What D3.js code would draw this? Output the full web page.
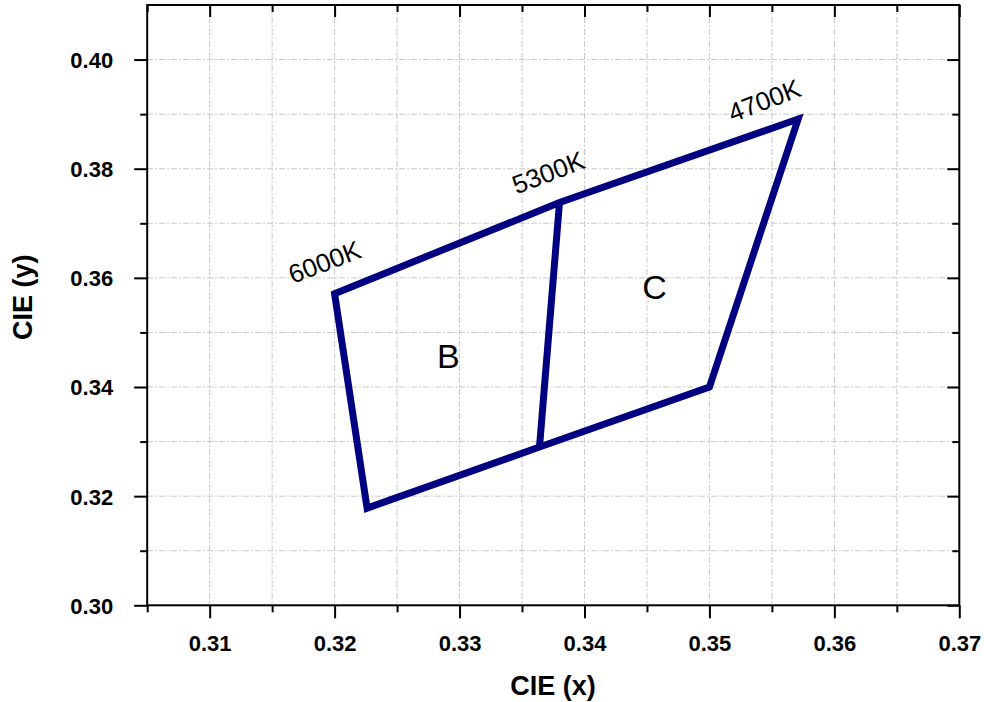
<!DOCTYPE html>
<html><head><meta charset="utf-8">
<script src="https://cdn.jsdelivr.net/npm/d3@7"></script>
<style>body{margin:0;background:#fff}svg{display:block}</style>
</head><body><svg id="c" width="984" height="702"></svg>
<script>
// Outline vertices (CIE x, CIE y)
const outlineX = [0.3200, 0.3226, 0.3364, 0.3500, 0.3571, 0.3380];
const outlineY = [0.3571, 0.3178, 0.3290, 0.3400, 0.3891, 0.3738];
// Dividing line (5300K)
const dividerX = [0.3380, 0.3364];
const dividerY = [0.3738, 0.3290];
// CCT labels
const cctLabels = ["6000K", "5300K", "4700K"];
const cctX = [0.3192, 0.3371, 0.3544];
const cctY = [0.3629, 0.3793, 0.3925];
// Region labels
const regionLabels = ["B", "C"];
const regionX = [0.3291, 0.3456];
const regionY = [0.3457, 0.3584];
// Axis ticks
const xTicks = [0.31, 0.32, 0.33, 0.34, 0.35, 0.36, 0.37];
const xMinor = [0.305, 0.315, 0.325, 0.335, 0.345, 0.355, 0.365];
const yTicks = [0.30, 0.32, 0.34, 0.36, 0.38, 0.40];
const yMinor = [0.31, 0.33, 0.35, 0.37, 0.39];

const svg = d3.select("#c");
const L = 147.2, R = 959.3, T = 5, B = 605.3;
const x = d3.scaleLinear().domain([0.305, 0.37]).range([L, R]);
const y = d3.scaleLinear().domain([0.30, 0.41]).range([B, T]);
const font = "'Liberation Sans', Arial, sans-serif";

// grid
const grid = svg.append("g").attr("stroke", "#c8c8c8").attr("stroke-width", 1).attr("stroke-dasharray", "6,2,2,2");
xTicks.concat(xMinor).filter(v => v > 0.306 && v < 0.369).forEach(v => {
  grid.append("line").attr("x1", x(v)).attr("x2", x(v)).attr("y1", T).attr("y2", B);
});
yTicks.concat(yMinor).filter(v => v > 0.301 && v < 0.409).forEach(v => {
  grid.append("line").attr("x1", L).attr("x2", R).attr("y1", y(v)).attr("y2", y(v));
});

// axes
const fmt = d3.format(".2f");
const axB = svg.append("g").attr("transform", `translate(0,${B})`)
  .call(d3.axisBottom(x).tickValues(xTicks).tickFormat(fmt).tickSize(13).tickPadding(17));
const axBm = svg.append("g").attr("transform", `translate(0,${B})`)
  .call(d3.axisBottom(x).tickValues(xMinor).tickFormat("").tickSize(7));
const axT = svg.append("g").attr("transform", `translate(0,${T})`)
  .call(d3.axisBottom(x).tickValues(xTicks).tickFormat("").tickSize(12));
const axTm = svg.append("g").attr("transform", `translate(0,${T})`)
  .call(d3.axisBottom(x).tickValues(xMinor).tickFormat("").tickSize(7));
const axL = svg.append("g").attr("transform", `translate(${L},0)`)
  .call(d3.axisLeft(y).tickValues(yTicks).tickFormat(fmt).tickSize(13).tickPadding(21));
const axLm = svg.append("g").attr("transform", `translate(${L},0)`)
  .call(d3.axisLeft(y).tickValues(yMinor).tickFormat("").tickSize(7));
const axR = svg.append("g").attr("transform", `translate(${R},0)`)
  .call(d3.axisLeft(y).tickValues(yTicks).tickFormat("").tickSize(12));
const axRm = svg.append("g").attr("transform", `translate(${R},0)`)
  .call(d3.axisLeft(y).tickValues(yMinor).tickFormat("").tickSize(7));
[axB, axBm, axT, axTm, axL, axLm, axR, axRm].forEach(g => {
  g.select(".domain").remove();
  g.selectAll(".tick line").attr("stroke", "#000").attr("stroke-width", 2);
  g.selectAll("text").attr("font-family", font).attr("font-weight", "bold")
    .attr("font-size", 22).attr("fill", "#000");
});
axL.selectAll("text").attr("dy", "0.36em");

// frame
svg.append("rect").attr("x", L).attr("y", T).attr("width", R - L).attr("height", B - T)
  .attr("fill", "none").attr("stroke", "#000").attr("stroke-width", 2);

// axis titles
svg.append("text").attr("x", 553).attr("y", 695).attr("text-anchor", "middle")
  .attr("font-family", font).attr("font-weight", "bold").attr("font-size", 27).text("CIE (x)");
svg.append("text").attr("transform", `translate(32,${(T + B) / 2 - 8}) rotate(-90)`)
  .attr("text-anchor", "middle").attr("font-family", font).attr("font-weight", "bold")
  .attr("font-size", 27).text("CIE (y)");

// outline
const pts = outlineX.map((v, i) => [x(v), y(outlineY[i])]);
const col = "#000080";
svg.append("path").attr("d", d3.line()(pts) + "Z").attr("fill", "none")
  .attr("stroke", col).attr("stroke-width", 7).attr("stroke-linejoin", "miter");
svg.append("path").attr("d", d3.line()(dividerX.map((v, i) => [x(v), y(dividerY[i])])))
  .attr("fill", "none").attr("stroke", col).attr("stroke-width", 7);

// CCT labels
cctLabels.forEach((t, i) => {
  svg.append("text").attr("transform", `translate(${x(cctX[i])},${y(cctY[i])}) rotate(-21)`)
    .attr("text-anchor", "middle").attr("dy", "0.35em").attr("font-family", font)
    .attr("font-size", 26).attr("fill", "#000").text(t);
});
// region labels
regionLabels.forEach((t, i) => {
  svg.append("text").attr("x", x(regionX[i])).attr("y", y(regionY[i]))
    .attr("text-anchor", "middle").attr("dy", "0.36em").attr("font-family", font)
    .attr("font-size", 34).attr("fill", "#000").text(t);
});
</script></body></html>
